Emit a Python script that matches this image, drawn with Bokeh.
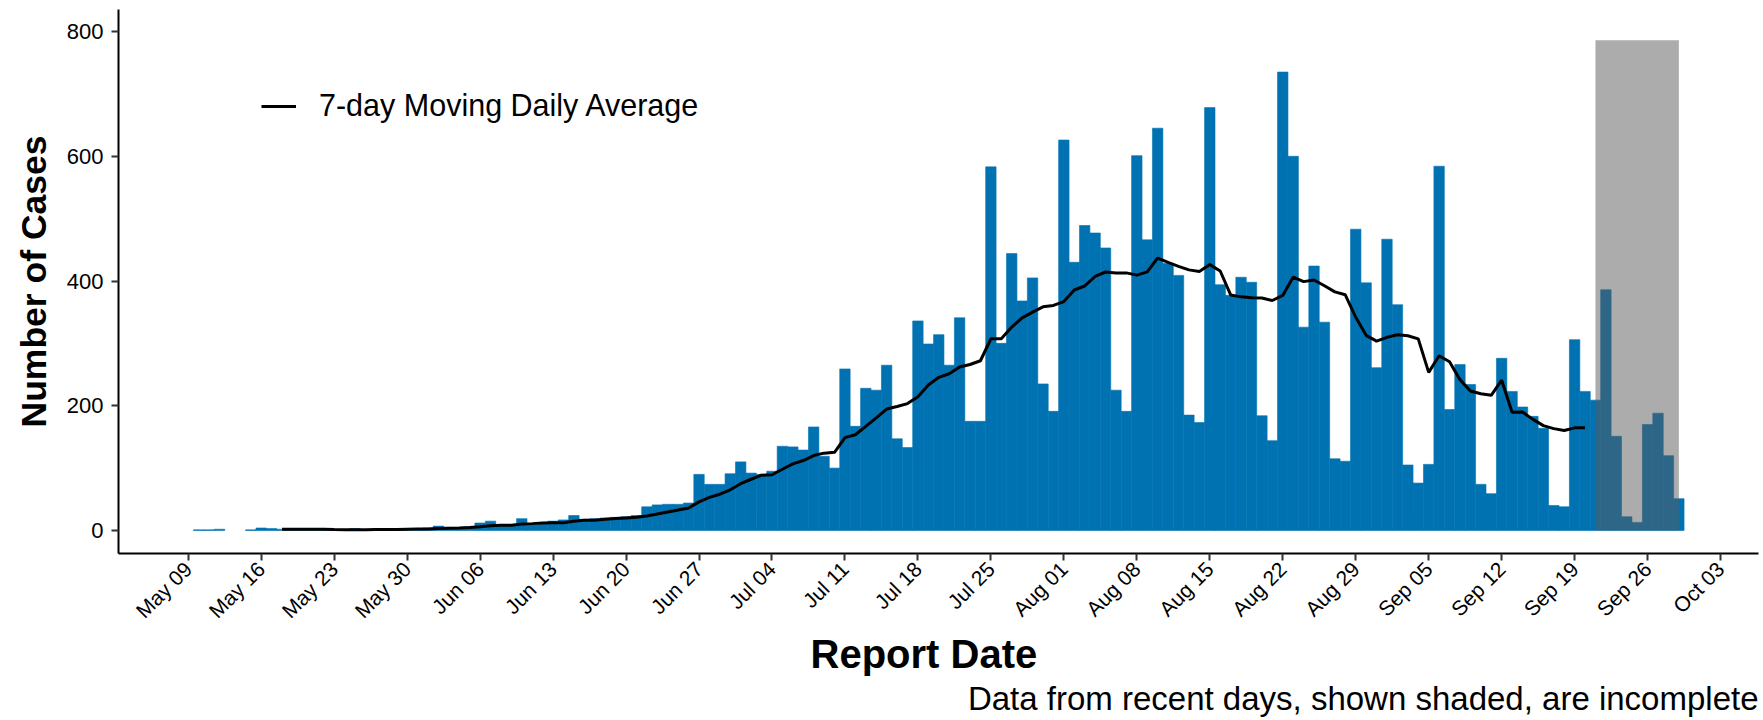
import numpy as np
import pandas as pd
from bokeh.plotting import figure
from bokeh.models import (FixedTicker, DatetimeTickFormatter, Range1d, Legend,
                          LegendItem, Title, ColumnDataSource)
from bokeh.embed import file_html
from bokeh.resources import INLINE

# ---------------- data ----------------
first_date = "2020-05-10"
# daily reported cases, one per day from first_date (None = no report that day)
daily_cases = [
    1, 1, 2, None, None, 1, 4, 3, 2, 1,          # May 10 - May 19
    1, 2, 1, 0, 1, 3, 1, 2, 2, 2,                # May 20 - May 29
    3, 3, 4, 7, 5, 5, 6, 12, 15, 8,              # May 30 - Jun 08
    8, 19, 9, 12, 15, 17, 24, 18, 19, 20,        # Jun 09 - Jun 18
    21, 22, 24, 38, 41, 42, 42, 44, 90, 74,      # Jun 19 - Jun 28
    74, 91, 110, 92, 90, 95, 135, 134, 129, 166, # Jun 29 - Jul 08
    119, 100, 259, 167, 228, 225, 265, 147, 133, 336,  # Jul 09 - Jul 18
    299, 314, 265, 341, 175, 175, 583, 300, 444, 368,  # Jul 19 - Jul 28
    405, 235, 191, 626, 430, 489, 477, 453, 225, 191,  # Jul 29 - Aug 07
    601, 466, 645, 428, 409, 185, 173, 678, 394, 377,  # Aug 08 - Aug 17
    406, 398, 184, 144, 735, 600, 326, 424, 334, 115,  # Aug 18 - Aug 27
    111, 483, 397, 261, 467, 362, 105, 76, 106, 584,   # Aug 28 - Sep 06
    194, 266, 234, 74, 59, 276, 223, 198, 183, 164,    # Sep 07 - Sep 16
    40, 38, 306, 223, 209, 386, 151, 22, 13, 170,      # Sep 17 - Sep 26
    188, 120, 51,                                      # Sep 27 - Sep 29
]
last_complete_date = "2020-09-20"
shade_start = "2020-09-21"
shade_end = "2020-09-29"
shade_top = 786
tick_dates = list(pd.date_range("2020-05-09", "2020-10-03", freq="7D"))
y_ticks = [0, 200, 400, 600, 800]
legend_label = "7-day Moving Daily Average"
x_title = "Report Date"
y_title = "Number of Cases"
caption = "Data from recent days, shown shaded, are incomplete"

# ---------------- prep ----------------
dates = pd.date_range(first_date, periods=len(daily_cases), freq="D")
df = pd.DataFrame({"date": dates, "cases": daily_cases}).dropna()
df["cases"] = df["cases"].astype(float)
complete = df[df["date"] <= pd.Timestamp(last_complete_date)].copy()
complete["ma"] = complete["cases"].rolling(7).mean()
ma_df = complete.dropna(subset=["ma"])

bar_src = ColumnDataSource(df)
ma_src = ColumnDataSource(ma_df)

origin = pd.Timestamp("2020-05-09")
x_start = origin + pd.Timedelta(days=-6.69)
x_end = origin + pd.Timedelta(days=150.64)

FONT = "Liberation Sans"
BLUE = "#0072B2"

p = figure(frame_width=1640, frame_height=544,
           min_border_left=118, min_border_right=5, min_border_top=9, min_border_bottom=160,
           x_axis_type="datetime", output_backend="svg", toolbar_location=None,
           x_range=Range1d(x_start, x_end), y_range=Range1d(-36.9, 835.3))

p.vbar(x="date", top="cases", bottom=0, width=86400000, source=bar_src,
       fill_color=BLUE, line_color=BLUE, line_width=0.6)

p.quad(left=[pd.Timestamp(shade_start)], right=[pd.Timestamp(shade_end)],
       bottom=[0], top=[shade_top], fill_color="#595959", fill_alpha=0.5, line_color=None)

ma_r = p.line(x="date", y="ma", source=ma_src, line_color="black", line_width=3)

# axes
p.xaxis.ticker = FixedTicker(ticks=[d.value // 10**6 for d in tick_dates])
fmt = "%b %d"
p.xaxis.formatter = DatetimeTickFormatter(microseconds=fmt, milliseconds=fmt, seconds=fmt,
                                          minsec=fmt, minutes=fmt, hourmin=fmt, hours=fmt,
                                          days=fmt, months=fmt, years=fmt)
p.xaxis.major_label_orientation = np.pi / 4
p.yaxis.ticker = FixedTicker(ticks=y_ticks)

for ax in (p.xaxis[0], p.yaxis[0]):
    ax.axis_line_color = "black"
    ax.axis_line_width = 2
    ax.major_tick_line_color = "#333333"
    ax.major_tick_line_width = 2
    ax.major_tick_out = 7
    ax.major_tick_in = 0
    ax.minor_tick_line_color = None
    ax.major_label_text_font = FONT
    ax.major_label_text_color = "black"
    ax.axis_label_text_font = FONT
    ax.axis_label_text_font_style = "bold"
    ax.axis_label_text_color = "black"

p.yaxis.major_label_text_font_size = "22px"
p.yaxis.major_label_standoff = 8
p.yaxis.axis_label = y_title
p.yaxis.axis_label_text_font_size = "35.5px"
p.yaxis.axis_label_standoff = 10

p.xaxis.major_label_text_font_size = "21px"
p.xaxis.major_label_standoff = 5

p.xgrid.visible = False
p.ygrid.visible = False
p.outline_line_color = None
p.background_fill_color = "white"
p.border_fill_color = "white"

legend = Legend(items=[LegendItem(label=legend_label, renderers=[ma_r])],
                location=(143, 430), orientation="vertical",
                background_fill_alpha=0, border_line_alpha=0,
                glyph_width=35, glyph_height=30, label_standoff=23,
                label_text_font=FONT, label_text_font_size="30.5px",
                label_text_color="black", padding=0, margin=0, spacing=0)
p.add_layout(legend)

p.add_layout(Title(text=x_title, align="left", offset=692, text_font=FONT,
                   text_font_size="40px", text_font_style="bold",
                   text_color="black", standoff=-7), "below")
p.add_layout(Title(text=caption, align="right", text_font=FONT,
                   text_font_size="33px", text_font_style="normal",
                   text_color="black", standoff=10), "below")

open("out.html", "w").write(file_html(p, INLINE))
